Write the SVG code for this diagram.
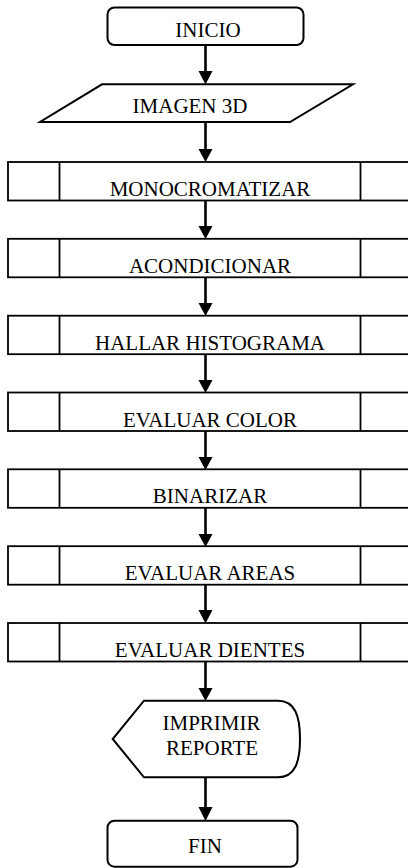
<svg xmlns="http://www.w3.org/2000/svg" width="408" height="868" viewBox="0 0 408 868">
  <defs>
    <style>
      .shape { fill: #fff; stroke: #000; stroke-width: 2; }
      .proc { fill: #fff; stroke: #000; stroke-width: 1.8; }
      .div { stroke: #000; stroke-width: 1.8; }
      .label { font-family: "Liberation Serif", "Times New Roman", "DejaVu Serif", serif; font-size: 21px; fill: #000; text-anchor: middle; }
      .conn { stroke: #000; stroke-width: 2.6; fill: none; }
      .head { fill: #000; }
    </style>
  </defs>
  <rect width="408" height="868" fill="#fff"/>

  <!-- connectors: shaft plus filled arrowhead pointing down -->
  <g id="connectors">
    <line class="conn" x1="205.5" y1="45" x2="205.5" y2="72"/>
    <polygon class="head" points="198.5,71 212.5,71 205.5,84.5"/>
    <line class="conn" x1="205.5" y1="122" x2="205.5" y2="150"/>
    <polygon class="head" points="198.5,149 212.5,149 205.5,162"/>
    <line class="conn" x1="205.5" y1="200.5" x2="205.5" y2="227"/>
    <polygon class="head" points="198.5,226 212.5,226 205.5,239"/>
    <line class="conn" x1="205.5" y1="277.3" x2="205.5" y2="304"/>
    <polygon class="head" points="198.5,303 212.5,303 205.5,316"/>
    <line class="conn" x1="205.5" y1="354.2" x2="205.5" y2="381"/>
    <polygon class="head" points="198.5,380 212.5,380 205.5,393"/>
    <line class="conn" x1="205.5" y1="431" x2="205.5" y2="458"/>
    <polygon class="head" points="198.5,457 212.5,457 205.5,470"/>
    <line class="conn" x1="205.5" y1="507.8" x2="205.5" y2="535"/>
    <polygon class="head" points="198.5,534 212.5,534 205.5,547"/>
    <line class="conn" x1="205.5" y1="584.7" x2="205.5" y2="611"/>
    <polygon class="head" points="198.5,610 212.5,610 205.5,623.5"/>
    <line class="conn" x1="205.5" y1="661.5" x2="205.5" y2="689"/>
    <polygon class="head" points="198.5,688 212.5,688 205.5,701"/>
    <line class="conn" x1="205.5" y1="777.3" x2="205.5" y2="808"/>
    <polygon class="head" points="198.5,807 212.5,807 205.5,821"/>
  </g>

  <!-- terminal: start -->
  <g id="inicio">
    <rect class="shape" x="107.5" y="7.5" width="196" height="37.5" rx="7"/>
    <text class="label" x="208" y="36.5">INICIO</text>
  </g>

  <!-- data input -->
  <g id="imagen3d">
    <polygon class="shape" points="102,84.3 353,84.3 290,122 40,122"/>
    <text class="label" x="190" y="113">IMAGEN 3D</text>
  </g>

  <!-- predefined processes -->
  <g id="monocromatizar">
    <rect class="proc" x="8" y="162" width="404" height="38.5"/>
    <line class="div" x1="59.5" y1="162" x2="59.5" y2="200.5"/>
    <line class="div" x1="360.5" y1="162" x2="360.5" y2="200.5"/>
    <text class="label" x="210" y="196">MONOCROMATIZAR</text>
  </g>
  <g id="acondicionar">
    <rect class="proc" x="8" y="238.8" width="404" height="38.5"/>
    <line class="div" x1="59.5" y1="238.8" x2="59.5" y2="277.3"/>
    <line class="div" x1="360.5" y1="238.8" x2="360.5" y2="277.3"/>
    <text class="label" x="210" y="272.8">ACONDICIONAR</text>
  </g>
  <g id="hallar-histograma">
    <rect class="proc" x="8" y="315.7" width="404" height="38.5"/>
    <line class="div" x1="59.5" y1="315.7" x2="59.5" y2="354.2"/>
    <line class="div" x1="360.5" y1="315.7" x2="360.5" y2="354.2"/>
    <text class="label" x="210" y="349.7">HALLAR HISTOGRAMA</text>
  </g>
  <g id="evaluar-color">
    <rect class="proc" x="8" y="392.5" width="404" height="38.5"/>
    <line class="div" x1="59.5" y1="392.5" x2="59.5" y2="431"/>
    <line class="div" x1="360.5" y1="392.5" x2="360.5" y2="431"/>
    <text class="label" x="210" y="426.5">EVALUAR COLOR</text>
  </g>
  <g id="binarizar">
    <rect class="proc" x="8" y="469.3" width="404" height="38.5"/>
    <line class="div" x1="59.5" y1="469.3" x2="59.5" y2="507.8"/>
    <line class="div" x1="360.5" y1="469.3" x2="360.5" y2="507.8"/>
    <text class="label" x="210" y="503.3">BINARIZAR</text>
  </g>
  <g id="evaluar-areas">
    <rect class="proc" x="8" y="546.2" width="404" height="38.5"/>
    <line class="div" x1="59.5" y1="546.2" x2="59.5" y2="584.7"/>
    <line class="div" x1="360.5" y1="546.2" x2="360.5" y2="584.7"/>
    <text class="label" x="210" y="580.2">EVALUAR AREAS</text>
  </g>
  <g id="evaluar-dientes">
    <rect class="proc" x="8" y="623" width="404" height="38.5"/>
    <line class="div" x1="59.5" y1="623" x2="59.5" y2="661.5"/>
    <line class="div" x1="360.5" y1="623" x2="360.5" y2="661.5"/>
    <text class="label" x="210" y="657">EVALUAR DIENTES</text>
  </g>

  <!-- display output -->
  <g id="imprimir-reporte">
    <path class="shape" d="M144,700.7 L278,700.7 C295,700.7 300,716 300,739 C300,762 295,777.3 278,777.3 L144,777.3 L112.7,739 Z"/>
    <text class="label" x="211.5" y="730">IMPRIMIR</text>
    <text class="label" x="212" y="755">REPORTE</text>
  </g>

  <!-- terminal: end -->
  <g id="fin">
    <rect class="shape" x="107.5" y="820.7" width="190" height="46" rx="7"/>
    <text class="label" x="205" y="852.5">FIN</text>
  </g>
</svg>
